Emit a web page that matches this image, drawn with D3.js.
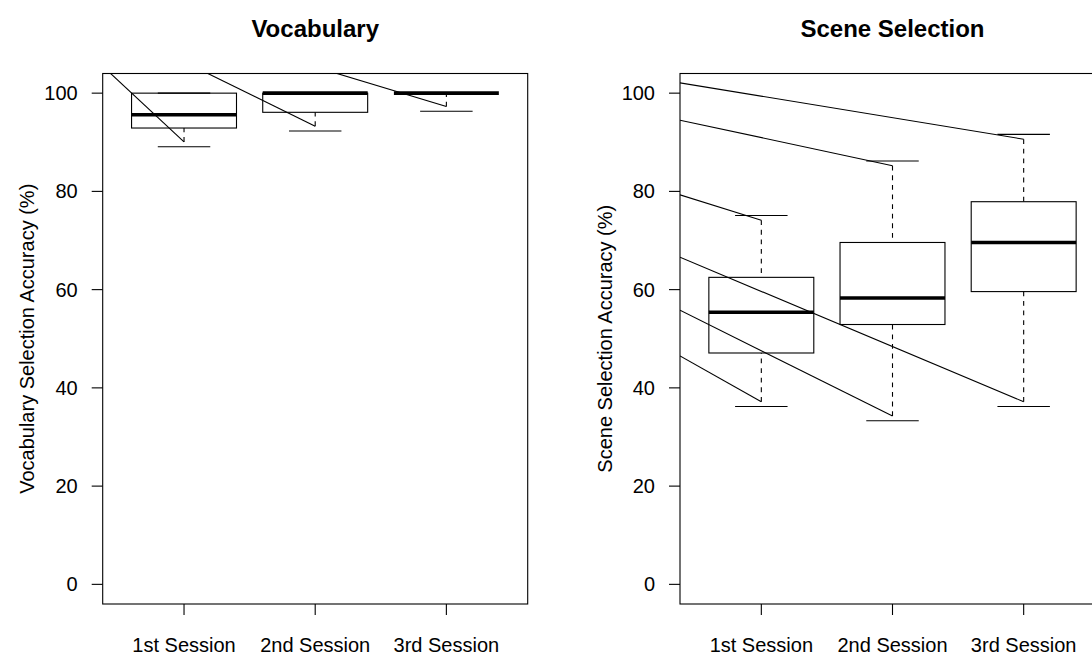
<!DOCTYPE html>
<html>
<head>
<meta charset="utf-8">
<script src="https://cdn.jsdelivr.net/npm/d3@7"></script>
<style>
  body { margin: 0; background: #fff; }
  svg { display: block; font-family: "Liberation Sans", Arial, sans-serif; }
</style>
</head>
<body>
<svg id="chart" width="1092" height="658"></svg>
<script>
// sessions on the x axis
var sessions = ["1st Session", "2nd Session", "3rd Session"];
var yTicks = [0, 20, 40, 60, 80, 100];

// five-number summaries: [lower whisker, Q1, median, Q3, upper whisker]
var vocabStats = [
  [89.1, 92.9, 95.6, 100, 100],
  [92.3, 96.1, 100, 100, 100],
  [96.3, 100, 100, 100, 100]
];
var sceneStats = [
  [36.2, 47.1, 55.4, 62.5, 75.1],
  [33.3, 52.9, 58.3, 69.6, 86.2],
  [36.2, 59.6, 69.6, 77.9, 91.6]
];

// stray lines that run from the left edge of the plot into a whisker end
// (value at the left edge, session index, which whisker)
var vocabStrays = [
  {from: 105.5, session: 0, end: "lo"},
  {from: 114.5, session: 1, end: "lo"},
  {from: 118.4, session: 2, end: "lo"}
];
var sceneStrays = [
  {from: 102.1, session: 2, end: "hi"},
  {from: 94.5, session: 1, end: "hi"},
  {from: 79.3, session: 0, end: "hi"},
  {from: 66.6, session: 2, end: "lo"},
  {from: 55.8, session: 1, end: "lo"},
  {from: 46.5, session: 0, end: "lo"}
];

var svg = d3.select("#chart");
var lw = 1.1;

function drawPanel(id, left, title, ylabel, stats, strays) {
  var top = 73.5, bottom = 604, width = 425;
  var x = d3.scaleLinear().domain([0.38, 3.62]).range([left, left + width]);
  var y = d3.scaleLinear().domain([-4, 104]).range([bottom, top]);
  var boxW = (x(1) - x(0)) * 0.8;
  var g = svg.append("g");

  svg.append("clipPath").attr("id", "clip-" + id)
    .append("rect")
      .attr("x", x.range()[0]).attr("y", top)
      .attr("width", width).attr("height", bottom - top);

  // title and axis label
  g.append("text")
    .attr("x", left + width / 2).attr("y", 37)
    .attr("text-anchor", "middle")
    .style("font-size", "24px").style("font-weight", "bold")
    .text(title);
  g.append("text")
    .attr("transform", "translate(" + (left - 68.5) + "," + ((top + bottom) / 2) + ") rotate(-90)")
    .attr("text-anchor", "middle")
    .style("font-size", "20px")
    .text(ylabel);

  // y axis
  yTicks.forEach(function (t) {
    g.append("line")
      .attr("x1", left - 11).attr("x2", left)
      .attr("y1", y(t)).attr("y2", y(t))
      .attr("stroke", "#000").attr("stroke-width", lw);
    g.append("text")
      .attr("x", left - 25).attr("y", y(t)).attr("dy", "0.35em")
      .attr("text-anchor", "end")
      .style("font-size", "20px")
      .text(t);
  });

  // x axis
  sessions.forEach(function (s, i) {
    g.append("line")
      .attr("x1", x(i + 1)).attr("x2", x(i + 1))
      .attr("y1", bottom).attr("y2", bottom + 11)
      .attr("stroke", "#000").attr("stroke-width", lw);
    g.append("text")
      .attr("x", x(i + 1)).attr("y", 652)
      .attr("text-anchor", "middle")
      .style("font-size", "20px")
      .text(s);
  });

  // boxes
  var dash = 4.8;
  stats.forEach(function (st, i) {
    var cx = x(i + 1);
    var bg = g.append("g").attr("fill", "none").attr("stroke", "#000").attr("stroke-width", lw);
    // whiskers, drawn from the staple toward the box
    [[st[0], st[1]], [st[4], st[3]]].forEach(function (w) {
      if (w[0] === w[1]) return;
      bg.append("line")
        .attr("x1", cx).attr("x2", cx)
        .attr("y1", y(w[0])).attr("y2", y(w[1]))
        .attr("stroke-dasharray", dash + "," + dash)
        .attr("stroke-dashoffset", dash);
    });
    // staples
    [st[0], st[4]].forEach(function (v) {
      bg.append("line")
        .attr("x1", cx - boxW / 4).attr("x2", cx + boxW / 4)
        .attr("y1", y(v)).attr("y2", y(v));
    });
    bg.append("rect")
      .attr("x", cx - boxW / 2).attr("width", boxW)
      .attr("y", y(st[3])).attr("height", y(st[1]) - y(st[3]));
    bg.append("line")
      .attr("x1", cx - boxW / 2).attr("x2", cx + boxW / 2)
      .attr("y1", y(st[2])).attr("y2", y(st[2]))
      .attr("stroke-width", 3.6);
  });

  // stray lines
  g.append("g").attr("clip-path", "url(#clip-" + id + ")")
    .selectAll("line").data(strays).join("line")
      .attr("x1", x.range()[0]).attr("y1", function (d) { return y(d.from); })
      .attr("x2", function (d) { return x(d.session + 1); })
      .attr("y2", function (d) {
        var st = stats[d.session];
        return d.end === "lo" ? y(st[0]) - dash : y(st[4]) + dash;
      })
      .attr("stroke", "#000").attr("stroke-width", lw);

  // frame
  g.append("rect")
    .attr("x", left).attr("y", top)
    .attr("width", width).attr("height", bottom - top)
    .attr("fill", "none").attr("stroke", "#000").attr("stroke-width", lw);
}

drawPanel("vocab", 102.7, "Vocabulary", "Vocabulary Selection Accuracy (%)", vocabStats, vocabStrays);
drawPanel("scene", 680, "Scene Selection", "Scene Selection Accuracy (%)", sceneStats, sceneStrays);
</script>
</body>
</html>
